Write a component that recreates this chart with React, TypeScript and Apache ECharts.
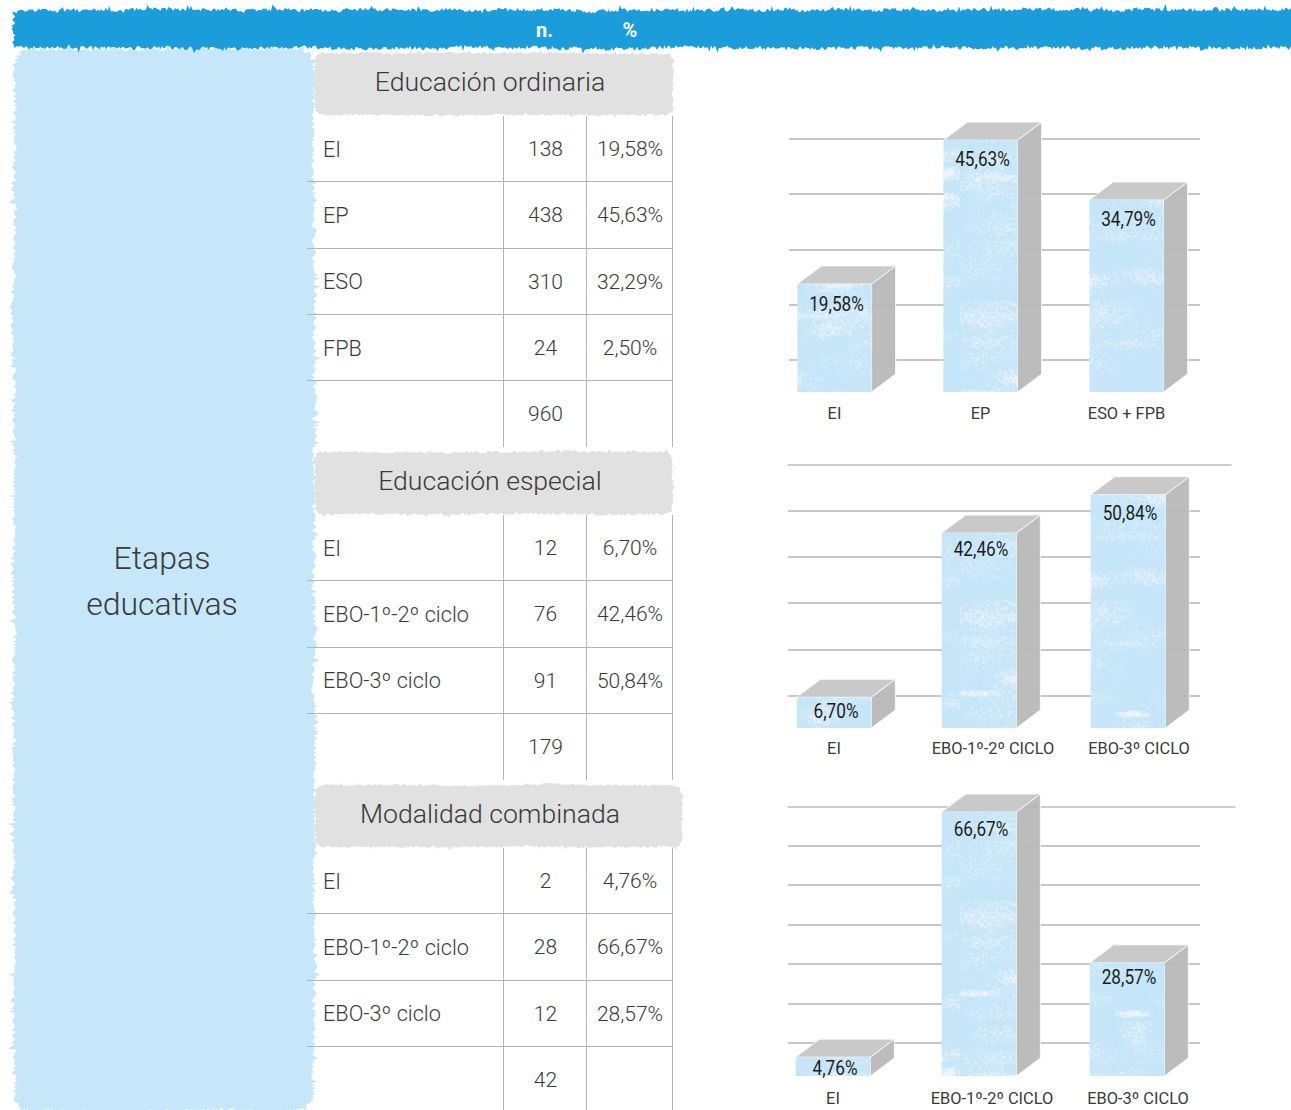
import React, { useEffect, useRef } from "react";
import * as echarts from "echarts";

const headerN = "n.";
const headerPct = "%";
const sideTitle = ["Etapas", "educativas"];

const sectionTitles = ["Educación ordinaria", "Educación especial", "Modalidad combinada"];

const ordinariaRows = ["EI", "EP", "ESO", "FPB"];
const ordinariaN = ["138", "438", "310", "24", "960"];
const ordinariaPct = ["19,58%", "45,63%", "32,29%", "2,50%"];

const especialRows = ["EI", "EBO-1º-2º ciclo", "EBO-3º ciclo"];
const especialN = ["12", "76", "91", "179"];
const especialPct = ["6,70%", "42,46%", "50,84%"];

const combinadaRows = ["EI", "EBO-1º-2º ciclo", "EBO-3º ciclo"];
const combinadaN = ["2", "28", "12", "42"];
const combinadaPct = ["4,76%", "66,67%", "28,57%"];

const ordinariaCats = ["EI", "EP", "ESO + FPB"];
const ordinariaVals = [19.58, 45.63, 34.79];
const especialCats = ["EI", "EBO-1º-2º CICLO", "EBO-3º CICLO"];
const especialVals = [6.7, 42.46, 50.84];
const combinadaCats = ["EI", "EBO-1º-2º CICLO", "EBO-3º CICLO"];
const combinadaVals = [4.76, 66.67, 28.57];

const FONT = "Roboto";
const LINE = "#b5b5b5";

// Deterministic generator for the decorative brush edges and the crayon texture
function makeRng(seed: number) {
  let s = seed >>> 0;
  return () => {
    s = (s * 1664525 + 1013904223) >>> 0;
    return s / 4294967296;
  };
}

function roughShape(x: number, y: number, w: number, h: number, r: number, amp: number, seed: number) {
  const rnd = makeRng(seed);
  const out: number[][] = [];
  const step = 1.6;
  let slow = 0;
  const push = (px: number, py: number, nx: number, ny: number) => {
    slow = slow * 0.93 + (rnd() - 0.5) * 0.18;
    let d = slow * amp + (rnd() - 0.5) * amp * 0.9;
    if (rnd() < 0.1) d += amp * (rnd() - 0.3) * 1.5;
    out.push([+(px + nx * d).toFixed(1), +(py + ny * d).toFixed(1)]);
  };
  const edge = (x0: number, y0: number, x1: number, y1: number, nx: number, ny: number) => {
    const len = Math.hypot(x1 - x0, y1 - y0);
    const n = Math.max(1, Math.round(len / step));
    for (let i = 0; i < n; i++) push(x0 + ((x1 - x0) * i) / n, y0 + ((y1 - y0) * i) / n, nx, ny);
  };
  const arc = (cx: number, cy: number, a0: number) => {
    const n = Math.max(2, Math.round((r * 1.57) / step));
    for (let i = 0; i < n; i++) {
      const a = a0 + (Math.PI / 2) * (i / n);
      const c = Math.cos(a);
      const s = Math.sin(a);
      push(cx + c * r, cy + s * r, c, s);
    }
  };
  edge(x + r, y, x + w - r, y, 0, -1);
  arc(x + w - r, y + r, -Math.PI / 2);
  edge(x + w, y + r, x + w, y + h - r, 1, 0);
  arc(x + w - r, y + h - r, 0);
  edge(x + w - r, y + h, x + r, y + h, 0, 1);
  arc(x + r, y + h - r, Math.PI / 2);
  edge(x, y + h - r, x, y + r, -1, 0);
  arc(x + r, y + r, Math.PI);
  return out;
}

function crayonTile() {
  const c = document.createElement("canvas");
  c.width = 240;
  c.height = 300;
  const ctx = c.getContext("2d")!;
  ctx.fillStyle = "#c5e5f8";
  ctx.fillRect(0, 0, 240, 300);
  const rnd = makeRng(77);
  for (let k = 0; k < 55; k++) {
    const cx = rnd() * 240;
    const cy = rnd() * 300;
    const sx = 18 + rnd() * 45;
    const sy = 4 + rnd() * 16;
    const n = 250 + Math.floor(rnd() * 350);
    for (let i = 0; i < n; i++) {
      const px = cx + (rnd() + rnd() - 1) * sx;
      const py = cy + (rnd() + rnd() - 1) * sy;
      ctx.fillStyle = `rgba(255,255,255,${0.05 + rnd() * 0.22})`;
      ctx.fillRect(px, py, 1 + rnd() * 1.5, 1 + rnd());
    }
  }
  return c;
}

type Panel = {
  cats: string[];
  vals: number[];
  labelShift: number[];
  barShift: number[];
  pctDy: number[];
  barLeft: number;
  barWidth: number;
  baseY: number;
  unitPx: number;
  lines: number;
  wallTop: number;
  wallStep: number;
  wallLeft: number;
  labelMargin: number;
  longTop: number | null;
};

const panels: Panel[] = [
  { cats: ordinariaCats, vals: ordinariaVals, labelShift: [0, 0, 0], barShift: [0, 0, 0], pctDy: [21, 19, 20], barLeft: 761.5, barWidth: 438, baseY: 392, unitPx: 5.52, lines: 5, wallTop: 139, wallStep: 55.2, wallLeft: 789, labelMargin: 13, longTop: null },
  { cats: especialCats, vals: especialVals, labelShift: [0, 24, 22], barShift: [0, -2, 0], pctDy: [14, 16, 19], barLeft: 760.5, barWidth: 441, baseY: 728, unitPx: 4.59, lines: 6, wallTop: 464, wallStep: 46.4, wallLeft: 788, labelMargin: 12, longTop: 1231 },
  { cats: combinadaCats, vals: combinadaVals, labelShift: [0, 24, 22], barShift: [0, -1, 0], pctDy: [11, 18, 15], barLeft: 759.5, barWidth: 441, baseY: 1076, unitPx: 3.96, lines: 7, wallTop: 806, wallStep: 39.5, wallLeft: 788, labelMargin: 14, longTop: 1235 },
];

function fmtPct(v: number) {
  return v.toFixed(2).replace(".", ",") + "%";
}

function buildGraphic() {
  const els: any[] = [];
  const text = (t: string, x: number, y: number, size: number, align: string, fill = "#3a3a3a", weight: any = 300) => ({
    type: "text",
    silent: true,
    z: 5,
    style: { text: t, x, y, fill, fontFamily: FONT, fontSize: size, fontWeight: weight, textAlign: align, textVerticalAlign: "middle" },
  });
  const line = (x1: number, y1: number, x2: number, y2: number) => ({
    type: "line",
    silent: true,
    z: 4,
    shape: { x1, y1, x2, y2 },
    style: { stroke: LINE, lineWidth: 1 },
  });
  const poly = (points: number[][], fill: string, z = 1) => ({
    type: "polygon",
    silent: true,
    z,
    shape: { points },
    style: { fill },
  });

  els.push(poly(roughShape(14, 49, 300, 1062, 18, 5, 5), "#c6e6fa", 1));
  els.push(poly(roughShape(13, 10, 1300, 38, 5, 4.2, 11), "#1b9ddb", 2));
  els.push(text(headerN, 544.5, 30, 20, "center", "#ffffff", 700));
  els.push(text(headerPct, 630, 30, 20, "center", "#ffffff", 700));
  els.push(text(sideTitle[0], 162, 558, 32, "center"));
  els.push(text(sideTitle[1], 162, 604, 32, "center"));

  const sections = [
    { rows: ordinariaRows, n: ordinariaN, pct: ordinariaPct, hx: 315, hw: 358, hy: 53, hh: 62, top: 115, end: 447 },
    { rows: especialRows, n: especialN, pct: especialPct, hx: 315, hw: 358, hy: 452, hh: 62, top: 514, end: 780 },
    { rows: combinadaRows, n: combinadaN, pct: combinadaPct, hx: 315, hw: 367, hy: 785, hh: 62, top: 847, end: 1112 },
  ];
  const rowH = 66.3;
  sections.forEach((s, si) => {
    els.push(poly(roughShape(s.hx, s.hy, s.hw, s.hh, 8, 2.6, 31 + si), "#e1e1e1", 3));
    els.push(text(sectionTitles[si], 490, s.hy + 28, 26.6, "center"));
    [503.5, 586.5, 672.5].forEach((x) => els.push(line(x, s.top + 1, x, s.end)));
    s.n.forEach((v, i) => {
      const cy = s.top + rowH * (i + 0.5) + 1;
      if (s.rows[i]) els.push(text(s.rows[i], 323, cy, 21.7, "left"));
      els.push(text(v, 545.5, cy, 21, "center"));
      if (s.pct[i]) els.push(text(s.pct[i], 630, cy, 21, "center"));
      if (i < s.n.length - 1) {
        const ly = Math.round(s.top + rowH * (i + 1)) + 0.5;
        els.push(line(307, ly, 673, ly));
      }
    });
  });
  return els;
}

function buildOption(tile: HTMLCanvasElement) {
  const grid: any[] = [];
  const xAxis: any[] = [];
  const yAxis: any[] = [];
  const series: any[] = [];

  panels.forEach((p) => {
    // back wall gridlines
    let idx = grid.length;
    grid.push({ left: p.wallLeft, width: 1200 - p.wallLeft, top: p.wallTop, height: p.lines * p.wallStep });
    xAxis.push({ gridIndex: idx, type: "value", min: 0, max: 1, show: false });
    yAxis.push({
      gridIndex: idx,
      type: "value",
      min: 0,
      max: p.lines * 10,
      interval: 10,
      axisLine: { show: false },
      axisTick: { show: false },
      axisLabel: { show: false },
      splitLine: { show: true, showMinLine: false, showMaxLine: !p.longTop, lineStyle: { color: LINE, width: 1.6 } },
    });
    // longer top rule on the second and third panels
    if (p.longTop) {
      idx = grid.length;
      grid.push({ left: p.wallLeft, width: p.longTop - p.wallLeft, top: p.wallTop, height: 1 });
      xAxis.push({
        gridIndex: idx,
        type: "value",
        position: "top",
        min: 0,
        max: 1,
        axisLine: { show: true, lineStyle: { color: "#bdbdbd", width: 1.5 } },
        axisTick: { show: false },
        axisLabel: { show: false },
        splitLine: { show: false },
      });
      yAxis.push({ gridIndex: idx, type: "value", min: 0, max: 1, show: false });
    }
    // bars
    idx = grid.length;
    const maxV = p.lines * 10;
    const gh = maxV * p.unitPx;
    grid.push({ left: p.barLeft, width: p.barWidth, top: p.baseY - gh, height: gh });
    xAxis.push({
      gridIndex: idx,
      type: "category",
      data: p.cats.map((c, i) => ({
        value: c,
        textStyle: p.labelShift[i] ? { padding: [0, 0, 0, p.labelShift[i]] } : {},
      })),
      axisLine: { show: false },
      axisTick: { show: false },
      axisLabel: { interval: 0, margin: p.labelMargin, color: "#3a3a3a", fontFamily: FONT, fontSize: 16.4, hideOverlap: false },
      splitLine: { show: false },
    });
    yAxis.push({ gridIndex: idx, type: "value", min: 0, max: maxV, show: false, splitLine: { show: false } });
    series.push({
      type: "custom",
      xAxisIndex: idx,
      yAxisIndex: idx,
      clip: false,
      z: 3,
      silent: true,
      encode: { x: 0, y: 1 },
      data: p.vals.map((v, i) => [i, v]),
      renderItem: (_: any, api: any) => {
        const i = api.value(0);
        const v = api.value(1);
        const top = api.coord([i, v]);
        const base = api.coord([i, 0]);
        const bw = api.size([1, 0])[0] * 0.508;
        const cx = top[0] + p.barShift[i];
        const l = cx - bw / 2;
        const r = cx + bw / 2;
        const dx = 24;
        const dy = 18;
        const h = base[1] - top[1];
        const edge = { stroke: "rgba(255,255,255,0.8)", lineWidth: 1 };
        return {
          type: "group",
          children: [
            {
              type: "polygon",
              shape: { points: [[r, top[1]], [r + dx, top[1] - dy], [r + dx, base[1] - dy], [r, base[1]]] },
              style: { fill: "rgba(184,184,184,0.94)", ...edge },
            },
            {
              type: "polygon",
              shape: { points: [[l, top[1]], [l + dx, top[1] - dy], [r + dx, top[1] - dy], [r, top[1]]] },
              style: { fill: "#c9c9c9", ...edge },
            },
            {
              type: "rect",
              shape: { x: l, y: top[1], width: bw, height: h },
              style: { fill: { image: tile, repeat: "repeat" } },
            },
            {
              type: "text",
              x: cx + 2,
              y: top[1] + p.pctDy[i],
              scaleX: 0.86,
              style: {
                text: fmtPct(v),
                x: 0,
                y: 0,
                fill: "#1c1c1c",
                fontFamily: FONT,
                fontSize: 20,
                textAlign: "center",
                textVerticalAlign: "middle",
              },
            },
          ],
        };
      },
    });
  });

  return {
    animation: false,
    backgroundColor: "#ffffff",
    grid,
    xAxis,
    yAxis,
    series,
    graphic: { elements: buildGraphic() },
  };
}

export default function App() {
  const ref = useRef<HTMLDivElement>(null);
  useEffect(() => {
    const chart = echarts.init(ref.current!, undefined, { renderer: "svg" });
    chart.setOption(buildOption(crayonTile()) as any);
    return () => chart.dispose();
  }, []);
  return <div ref={ref} style={{ position: "absolute", left: 0, top: 0, width: 1291, height: 1110 }} />;
}
